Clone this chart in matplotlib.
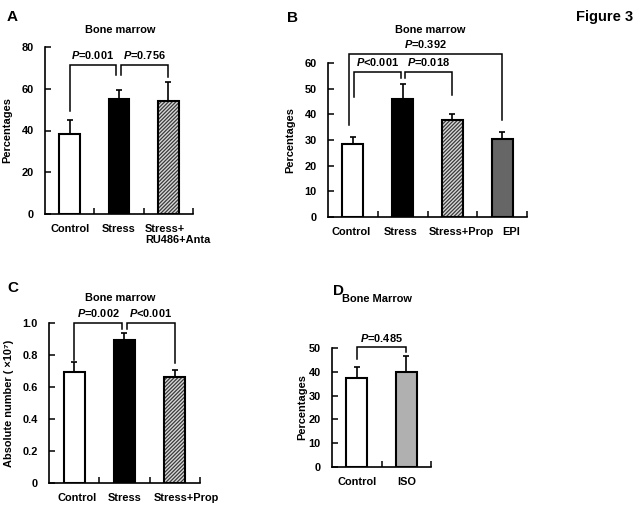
import matplotlib
matplotlib.use("Agg")
import matplotlib.pyplot as plt

plt.rcParams["font.family"] = ["Liberation Sans", "DejaVu Sans"]
plt.rcParams["font.weight"] = "bold"
plt.rcParams["font.size"] = 7.9
plt.rcParams["mathtext.fontset"] = "custom"
plt.rcParams["mathtext.bfit"] = "Liberation Sans:italic:bold"
plt.rcParams["mathtext.rm"] = "Liberation Sans:bold"
plt.rcParams["hatch.linewidth"] = 0.9

# Panel A
cats_a = ["Control", "Stress", "Stress+\nRU486+Anta"]
vals_a = [38.2, 55.0, 54.0]
errs_a = [6.6, 4.2, 9.4]
ticks_a = [0, 20, 40, 60, 80]

# Panel B
cats_b = ["Control", "Stress", "Stress+Prop", "EPI"]
vals_b = [28.6, 45.8, 37.7, 30.5]
errs_b = [2.6, 5.9, 2.6, 2.6]
ticks_b = [0, 10, 20, 30, 40, 50, 60]

# Panel C
cats_c = ["Control", "Stress", "Stress+Prop"]
vals_c = [0.694, 0.892, 0.662]
errs_c = [0.062, 0.048, 0.042]
ticks_c = [0, 0.2, 0.4, 0.6, 0.8, 1.0]
tick_labels_c = ["0", "0.2", "0.4", "0.6", "0.8", "1.0"]

# Panel D
cats_d = ["Control", "ISO"]
vals_d = [37.3, 40.1]
errs_d = [4.7, 6.7]
ticks_d = [0, 10, 20, 30, 40, 50]

# bar styles: (facecolor, hatched)
styles_a = [("white", False), ("black", False), ("white", True)]
styles_b = [("white", False), ("black", False), ("white", True), ("#666666", False)]
styles_c = [("white", False), ("black", False), ("white", True)]
styles_d = [("white", False), ("#b0b0b0", False)]

# where each category label sits (x in data units, alignment)
labpos_a = [(0, "center"), (1, "center"), (1.53, "left")]
labpos_b = [(-0.04, "center"), (0.96, "center"), (2.18, "center"), (3.18, "center")]
labpos_c = [(0.06, "center"), (1.0, "center"), (2.23, "center")]
labpos_d = [(0, "center"), (1, "center")]

# brackets: (x_left, x_right, y_top, y_left_end, y_right_end, label)
brackets_a = [(0.0, 0.93, 71.5, 49.5, 66.5, "0.001"),
              (1.05, 2.0, 71.5, 66.5, 65.5, "0.756")]
brackets_b = [(-0.08, 3.0, 63.5, 35.8, 37.8, "0.392"),
              (0.02, 0.97, 56.5, 46.8, 54.0, "<0.001"),
              (1.04, 2.0, 56.5, 54.0, 47.5, "0.018")]
brackets_c = [(0.0, 0.95, 1.0, 0.77, 0.965, "0.002"),
              (1.05, 2.0, 1.0, 0.965, 0.75, "<0.001")]
brackets_d = [(0.0, 1.0, 50.4, 45.5, 48.5, "0.485")]


def draw_panel(ax, cats, vals, errs, styles, labpos, ticks, ymax, brackets,
               ylabel, ylab_x, tick_labels=None):
    n = len(cats)
    xs = list(range(n))
    width = 0.42
    for x, v, (fc, hatched) in zip(xs, vals, styles):
        if hatched:
            ax.bar(x, v, width=width, color="#d8d8d8", edgecolor="#3a3a3a",
                   hatch="/////////", linewidth=0, zorder=2)
            ax.bar(x, v, width=width, fill=False, edgecolor="black",
                   linewidth=1.5, zorder=3)
        else:
            ax.bar(x, v, width=width, color=fc, edgecolor="black",
                   linewidth=1.5, zorder=3)
    ax.errorbar(xs, vals, yerr=[[0] * n, errs], fmt="none", ecolor="black",
                elinewidth=1.2, capsize=2.2, capthick=1.2, zorder=2)

    for xl, xr, yt, yle, yre, lab in brackets:
        ax.plot([xl, xl, xr, xr], [yle, yt, yt, yre], color="black",
                lw=1.1, clip_on=False, solid_joinstyle="miter")
        sep = "" if lab.startswith("<") else "="
        ax.text((xl + xr) / 2, yt + ymax * 0.025, r"$\mathbfit{P}$" + sep + lab,
                ha="center", va="bottom", fontweight="bold")

    # category labels drawn as text so they can be nudged like the original
    for (lx, ha), cat in zip(labpos, cats):
        ax.annotate(cat, xy=(lx, 0), xycoords=("data", "axes fraction"),
                    xytext=(0, -7), textcoords="offset points", ha=ha, va="top",
                    multialignment="left", fontweight="bold")

    ax.set_xlim(-0.5, n - 0.5)
    ax.set_ylim(0, ymax)
    ax.set_yticks(ticks)
    if tick_labels is not None:
        ax.set_yticklabels(tick_labels)
    ax.set_xticks([])
    ax.set_xticks([i + 0.5 for i in range(n)], minor=True)
    ax.tick_params(axis="x", which="minor", direction="in", length=4, width=1.1,
                   labelbottom=False)
    ax.tick_params(axis="y", direction="in", length=4, width=1.1, pad=8)
    for s in ["top", "right"]:
        ax.spines[s].set_visible(False)
    for s in ["left", "bottom"]:
        ax.spines[s].set_linewidth(1.2)
    ax.set_ylabel(ylabel, fontweight="bold")
    ax.yaxis.set_label_coords(ylab_x, 0.5)


fig = plt.figure(figsize=(6.4, 5.12), dpi=100)
W, H = 640, 512


def add_axes(left, right, top, bottom):
    return fig.add_axes([left / W, 1 - bottom / H, (right - left) / W, (bottom - top) / H])


ax_a = add_axes(45, 193, 47, 214)
ax_b = add_axes(328, 527, 63, 217)
ax_c = add_axes(49, 200, 323, 483)
ax_d = add_axes(332, 431, 348, 467)

draw_panel(ax_a, cats_a, vals_a, errs_a, styles_a, labpos_a, ticks_a, 80,
           brackets_a, "Percentages", -0.22)
draw_panel(ax_b, cats_b, vals_b, errs_b, styles_b, labpos_b, ticks_b, 60,
           brackets_b, "Percentages", -0.165)
draw_panel(ax_c, cats_c, vals_c, errs_c, styles_c, labpos_c, ticks_c, 1.0,
           brackets_c, "Absolute number ( ×10⁷)", -0.23, tick_labels_c)
draw_panel(ax_d, cats_d, vals_d, errs_d, styles_d, labpos_d, ticks_d, 50,
           brackets_d, "Percentages", -0.25)


def ftext(x, y, s, size=7.9):
    fig.text(x / W, 1 - y / H, s, ha="center", va="center", fontsize=size, fontweight="bold")


ftext(12, 17, "A", 11)
ftext(293, 18, "B", 11)
ftext(13, 288, "C", 11)
ftext(338, 291, "D", 11)
ftext(605, 17, "Figure 3", 10.5)
ftext(120, 30, "Bone marrow")
ftext(430, 30, "Bone marrow")
ftext(120, 298, "Bone marrow")
ftext(377, 299, "Bone Marrow")

fig.savefig("out.png", dpi=100)
